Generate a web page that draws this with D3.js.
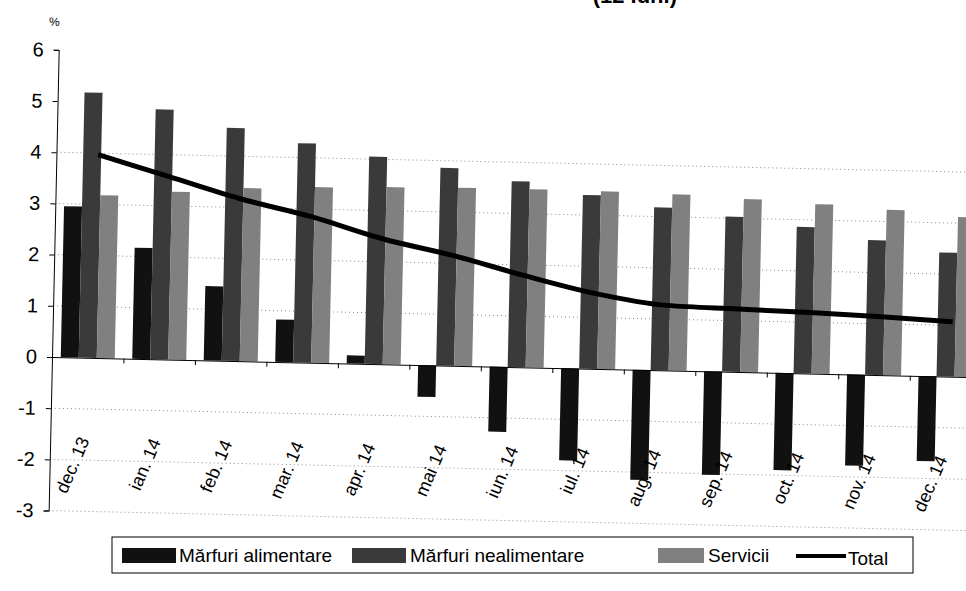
<!DOCTYPE html>
<html>
<head>
<meta charset="utf-8">
<script src="https://cdn.jsdelivr.net/npm/d3@7"></script>
<style>
  body { margin: 0; background: #fff; }
  svg { font-family: "Liberation Sans", Arial, sans-serif; }
</style>
</head>
<body>
<div id="chart"></div>
<script>
// categories and series
var categories = ["dec. 13", "ian. 14", "feb. 14", "mar. 14", "apr. 14", "mai 14", "iun. 14",
                  "iul. 14", "aug. 14", "sep. 14", "oct. 14", "nov. 14", "dec. 14"];
var alimentare   = [2.95, 2.17, 1.45, 0.83, 0.16, -0.62, -1.27, -1.80, -2.15, -2.02, -1.90, -1.78, -1.66];
var nealimentare = [5.18, 4.88, 4.55, 4.28, 4.05, 3.86, 3.63, 3.39, 3.18, 3.03, 2.86, 2.63, 2.42];
var servicii     = [3.18, 3.28, 3.38, 3.43, 3.46, 3.48, 3.48, 3.47, 3.44, 3.38, 3.31, 3.23, 3.12];
var total        = [3.97, 3.57, 3.17, 2.85, 2.45, 2.15, 1.79, 1.47, 1.27, 1.23, 1.19, 1.14, 1.07];
var yTicks = [-3, -2, -1, 0, 1, 2, 3, 4, 5, 6];
var gridValues = [-3, -2, -1, 1, 2, 3, 4];

var seriesNames = ["Mărfuri alimentare", "Mărfuri nealimentare", "Servicii"];
var seriesData = [alimentare, nealimentare, servicii];
var seriesColors = ["#111", "#3a3a3a", "#808080"];

var width = 966, height = 591;
var plotLeft = 52, plotRight = 981.5, plotTop = 49.8, plotBottom = 510.6;

var svg = d3.select("#chart").append("svg")
    .attr("width", width)
    .attr("height", height);

// title, mostly cut off at the top of the scan
svg.append("text")
    .attr("x", 677)
    .attr("y", 3)
    .attr("text-anchor", "end")
    .attr("font-size", 22)
    .attr("font-weight", "bold")
    .text("(12 luni)");

// the scanned page is slightly tilted
var chart = svg.append("g")
    .attr("transform", "rotate(1.25, 52, 357)");

var x = d3.scaleBand()
    .domain(categories)
    .range([plotLeft, plotRight]);

var xIdx = d3.scaleLinear()
    .domain([0, categories.length])
    .range([plotLeft, plotRight]);

var x1 = d3.scaleBand()
    .domain(seriesNames)
    .range([0, 54]);

var y = d3.scaleLinear()
    .domain([-3, 6])
    .range([plotBottom, plotTop]);

var groupOffset = (x.bandwidth() - 54) / 2;

// gridlines
chart.append("g")
    .selectAll("line")
    .data(gridValues)
    .enter()
    .append("line")
    .attr("x1", plotLeft)
    .attr("x2", plotRight)
    .attr("y1", d => y(d))
    .attr("y2", d => y(d))
    .attr("stroke", "#888")
    .attr("stroke-width", 1)
    .attr("stroke-dasharray", "1,3");

// bars
seriesData.forEach(function(values, s) {
    chart.append("g")
        .selectAll("rect")
        .data(values)
        .enter()
        .append("rect")
        .attr("x", (d, i) => x(categories[i]) + groupOffset + x1(seriesNames[s]))
        .attr("y", d => y(Math.max(0, d)))
        .attr("width", x1.bandwidth())
        .attr("height", d => Math.abs(y(d) - y(0)))
        .attr("fill", seriesColors[s]);
});

// total line
var line = d3.line()
    .x((d, i) => x(categories[i]) + x.bandwidth() / 2 + 6)
    .y(d => y(d))
    .curve(d3.curveMonotoneX);

chart.append("path")
    .datum(total)
    .attr("d", line)
    .attr("fill", "none")
    .attr("stroke", "#000")
    .attr("stroke-width", 5);

// y axis
var yAxis = d3.axisLeft(y)
    .tickValues(yTicks)
    .tickSize(5)
    .tickPadding(10)
    .tickFormat(d => String(d));

var gy = chart.append("g")
    .attr("transform", "translate(" + plotLeft + ",0)")
    .call(yAxis);
gy.selectAll("text").attr("font-size", 20).attr("fill", "#000");
gy.selectAll("path, line").attr("stroke", "#000");

// x axis on the zero line, ticks between categories
var xAxis = d3.axisBottom(xIdx)
    .tickValues(d3.range(1, categories.length + 1))
    .tickSize(5)
    .tickSizeOuter(0)
    .tickFormat("");

var gx = chart.append("g")
    .attr("transform", "translate(0," + y(0) + ")")
    .call(xAxis);
gx.selectAll("path, line").attr("stroke", "#000");

// category labels, rotated, below the zero line
chart.append("g")
    .selectAll("text")
    .data(categories)
    .enter()
    .append("text")
    .attr("transform", d => "translate(" + (x(d) + x.bandwidth() / 2 - 2) + "," + (y(0) + 80) + ") rotate(-68)")
    .attr("text-anchor", "end")
    .attr("dy", "0.35em")
    .attr("font-size", 18)
    .text(d => d);

chart.append("text")
    .attr("x", 47)
    .attr("y", 26)
    .attr("text-anchor", "middle")
    .attr("font-size", 12)
    .text("%");

// legend
var legend = svg.append("g");
legend.append("rect")
    .attr("x", 112)
    .attr("y", 537)
    .attr("width", 801)
    .attr("height", 36)
    .attr("fill", "#fff")
    .attr("stroke", "#000")
    .attr("stroke-width", 1);

var legendItems = [
    { name: seriesNames[0], color: seriesColors[0], sx: 122, sw: 54, tx: 179 },
    { name: seriesNames[1], color: seriesColors[1], sx: 352, sw: 54, tx: 410 },
    { name: seriesNames[2], color: seriesColors[2], sx: 658, sw: 46, tx: 708 }
];

legendItems.forEach(function(it) {
    legend.append("rect")
        .attr("x", it.sx)
        .attr("y", 548)
        .attr("width", it.sw)
        .attr("height", 15)
        .attr("fill", it.color);
    legend.append("text")
        .attr("x", it.tx)
        .attr("y", 562)
        .attr("font-size", 19)
        .text(it.name);
});

legend.append("line")
    .attr("x1", 796)
    .attr("x2", 846)
    .attr("y1", 556)
    .attr("y2", 556)
    .attr("stroke", "#000")
    .attr("stroke-width", 4);
legend.append("text")
    .attr("x", 848)
    .attr("y", 565)
    .attr("font-size", 19)
    .text("Total");
</script>
</body>
</html>
